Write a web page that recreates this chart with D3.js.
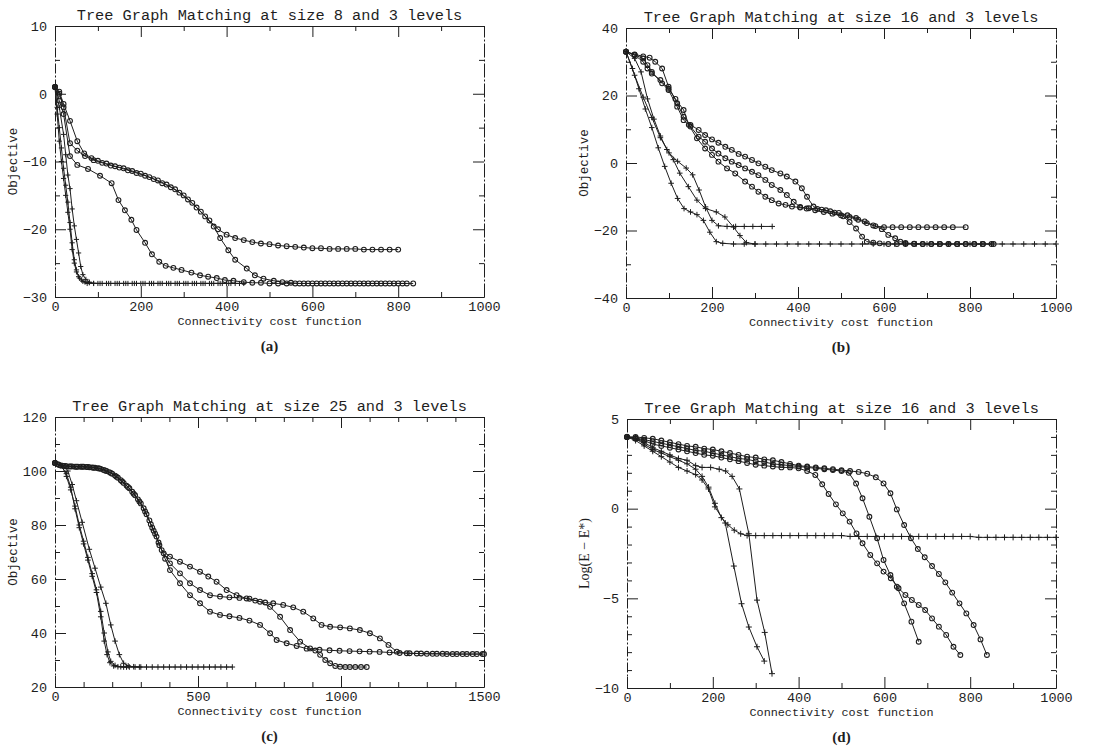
<!DOCTYPE html>
<html>
<head>
<meta charset="utf-8">
<script src="https://cdn.jsdelivr.net/npm/d3@7/dist/d3.min.js"></script>
<style>
  body { margin: 0; background: #fff; }
</style>
</head>
<body>
<div id="fig"></div>
<script>
// ---- panel (a) : size 8 ----
var aTitle = "Tree Graph Matching at size 8 and 3 levels";
var aXTicks = [0, 200, 400, 600, 800, 1000];
var aXMinor = [100, 300, 500, 700, 900];
var aYTicks = [-30, -20, -10, 0, 10];
var aYMinor = [-25, -15, -5, 5];
var aCirc1 = [[0,1],[10,0.3],[20,-1.5],[35,-4],[52,-7],[68,-8.8],[85,-9.5],[100,-9.9],[120,-10.3],[140,-10.7],[160,-11],[180,-11.4],[200,-11.8],[220,-12.3],[240,-12.8],[260,-13.4],[280,-14.1],[300,-15],[320,-16.1],[340,-17.4],[360,-18.7],[380,-20],[400,-20.8],[420,-21.3],[440,-21.6],[460,-21.9],[480,-22.1],[500,-22.2],[520,-22.4],[540,-22.5],[560,-22.6],[580,-22.7],[600,-22.8],[620,-22.8],[640,-22.9],[660,-22.9],[680,-22.9],[700,-22.9],[720,-23],[740,-23],[760,-23],[780,-23],[800,-23]];
var aCirc2 = [[0,1],[10,0],[20,-2],[35,-7.3],[52,-8.4],[70,-9.2],[90,-9.8],[110,-10.2],[130,-10.6],[150,-10.9],[170,-11.3],[190,-11.7],[210,-12.1],[230,-12.6],[250,-13.2],[270,-13.8],[290,-14.6],[310,-15.6],[330,-16.8],[350,-18.1],[370,-19.6],[385,-21.3],[404,-23.1],[420,-24.5],[447,-25.8],[466,-26.8],[486,-27.3],[510,-27.6],[530,-27.8],[550,-27.9],[570,-28],[590,-28],[610,-28],[630,-28],[650,-28],[670,-28],[690,-28],[710,-28],[730,-28],[750,-28],[770,-28],[790,-28],[810,-28],[835,-28]];
var aCirc3 = [[0,1],[10,-1],[20,-3],[35,-9.2],[52,-10.5],[77,-11.1],[105,-12.1],[132,-13.2],[148,-15.7],[163,-17.2],[178,-18.6],[190,-20.1],[210,-22],[226,-23.7],[243,-24.8],[258,-25.4],[276,-25.7],[295,-26],[318,-26.4],[338,-26.8],[357,-27],[377,-27.2],[396,-27.5],[416,-27.6],[440,-27.8],[460,-27.9],[480,-27.9],[500,-28],[520,-28],[540,-28],[560,-28],[580,-28],[600,-28],[620,-28],[640,-28],[660,-28],[680,-28],[700,-28],[720,-28],[740,-28],[760,-28],[780,-28],[800,-28],[820,-28]];
var aPlus1 = [[0,1],[5,-2],[10,-5],[15,-8],[20,-11],[25,-13.5],[30,-16],[35,-19],[40,-22],[45,-24.5],[50,-26],[55,-27],[62,-27.5],[70,-27.8],[80,-27.9],[100,-28],[120,-28],[140,-28],[160,-28],[180,-28],[200,-28],[220,-28],[240,-28],[260,-28],[280,-28],[300,-28],[320,-28],[340,-28],[360,-28],[380,-28],[400,-28],[420,-28],[440,-28]];
var aPlus2 = [[0,1],[5,-3],[10,-7],[15,-10],[20,-12.5],[25,-15],[30,-17.5],[35,-20],[40,-23],[45,-25],[50,-26.3],[57,-27.2],[65,-27.7],[75,-28],[90,-28],[105,-28],[125,-28],[145,-28],[165,-28],[185,-28],[205,-28],[225,-28],[245,-28],[265,-28],[285,-28],[305,-28],[325,-28],[345,-28],[365,-28],[385,-28],[405,-28]];
var aPlus3 = [[0,1],[10,-2],[20,-6],[25,-9],[30,-12],[35,-14],[40,-17],[45,-19.5],[50,-21.5],[55,-23.5],[60,-25.5],[65,-26.7],[72,-27.4],[80,-27.8],[90,-28],[110,-28],[130,-28],[150,-28],[170,-28],[190,-28],[210,-28],[230,-28],[250,-28],[270,-28],[290,-28],[310,-28],[330,-28],[350,-28],[370,-28],[390,-28],[410,-28],[430,-28]];

// ---- panel (b) : size 16 ----
var bTitle = "Tree Graph Matching at size 16 and 3 levels";
var bXTicks = [0, 200, 400, 600, 800, 1000];
var bXMinor = [100, 300, 500, 700, 900];
var bYTicks = [-40, -20, 0, 20, 40];
var bYMinor = [-30, -10, 10, 30];
var bCirc1 = [[0,33],[20,32.2],[40,31.6],[55,31.2],[68,30],[84,28],[99,22.6],[119,17.7],[134,13.7],[150,11.3],[169,9.8],[184,8.3],[200,7],[215,6],[231,4.8],[246,3.9],[262,2.7],[277,1.9],[293,0.9],[308,-0.1],[324,-1.1],[339,-2.1],[359,-3.1],[374,-4],[394,-5.5],[409,-7.5],[421,-10],[436,-12.9],[455,-13.8],[475,-14.3],[495,-14.8],[515,-15.5],[535,-16.3],[555,-17.3],[575,-18.5],[595,-19.6],[610,-21.3],[626,-22.3],[638,-23.3],[650,-23.7],[670,-23.9],[690,-24],[710,-24],[730,-24],[750,-24],[770,-24],[790,-24],[810,-24],[830,-24],[850,-24]];
var bCirc2 = [[0,33],[20,32],[40,31],[50,29],[60,27],[84,23.6],[99,21.6],[119,16.7],[134,12.7],[150,10.8],[169,7.8],[184,6.3],[200,4.3],[215,2.8],[231,1.4],[246,0.4],[262,-0.6],[277,-1.6],[293,-2.6],[308,-3.6],[324,-5],[339,-6.5],[359,-8],[374,-9.5],[390,-11.5],[405,-13],[420,-13.5],[440,-14],[460,-14.5],[480,-15],[500,-15.5],[520,-16],[540,-16.8],[560,-17.8],[580,-18.7],[600,-19],[620,-19],[640,-19],[660,-19],[680,-19],[700,-19],[720,-19],[740,-19],[760,-19],[790,-19]];
var bCirc3 = [[0,33],[20,32],[40,30],[50,28],[60,26.5],[80,24.6],[99,22],[115,19],[134,15.7],[146,11.3],[165,7.3],[184,4.3],[200,2.4],[215,0.4],[235,-1.6],[254,-3.1],[277,-5.5],[293,-7],[308,-8.5],[324,-10],[339,-11],[355,-12],[371,-12.4],[386,-12.9],[405,-13.2],[425,-13.4],[445,-13.6],[465,-14],[485,-14.7],[505,-15.8],[520,-17.5],[535,-19.4],[549,-21.8],[560,-23.3],[575,-23.6],[590,-23.8],[610,-24],[630,-24],[650,-24],[670,-24],[690,-24],[710,-24],[730,-24],[750,-24],[770,-24],[790,-24],[810,-24],[830,-24],[855,-24]];
var bPlus1 = [[0,33],[15,28],[30,22],[45,16],[60,10.5],[75,4.5],[90,-1],[105,-6],[120,-10.5],[135,-13.5],[150,-14.5],[165,-15.3],[180,-17],[195,-20.5],[210,-23.3],[225,-23.8],[250,-24],[275,-24],[300,-24],[325,-24],[350,-24],[375,-24],[400,-24],[425,-24],[450,-24],[475,-24],[500,-24],[525,-24],[550,-24],[575,-24],[600,-24],[625,-24],[650,-24],[675,-24],[700,-24],[725,-24],[750,-24],[775,-24],[800,-24],[825,-24],[850,-24],[875,-24],[900,-24],[925,-24],[950,-24],[975,-24],[1000,-24]];
var bPlus2 = [[0,33],[20,26],[40,19.5],[60,13.5],[80,7.5],[100,3],[120,0.5],[140,-1.5],[155,-3.5],[170,-8],[185,-13],[200,-17],[215,-18.6],[235,-18.8],[255,-18.8],[275,-18.8],[295,-18.8],[315,-18.8],[340,-18.8]];
var bPlus3 = [[0,33],[20,31],[35,27],[50,19],[65,13],[80,8],[95,4],[110,1],[125,-3],[145,-7],[165,-11],[185,-13.5],[210,-14.5],[230,-16],[250,-19],[265,-21.5],[280,-23.6],[300,-24]];

// ---- panel (c) : size 25 ----
var cTitle = "Tree Graph Matching at size 25 and 3 levels";
var cXTicks = [0, 500, 1000, 1500];
var cXMinor = [100, 200, 300, 400, 600, 700, 800, 900, 1100, 1200, 1300, 1400];
var cYTicks = [20, 40, 60, 80, 100, 120];
var cYMinor = [30, 50, 70, 90, 110];
var cCirc1 = [[0,103],[20,102],[40,101.8],[60,101.7],[80,101.6],[100,101.6],[120,101.4],[140,101.2],[160,100.8],[180,100],[200,99],[220,97.5],[240,95.6],[260,93.6],[280,91],[300,88],[320,84],[340,79],[355,75.7],[373,70.7],[402,68.3],[437,66.4],[472,64.6],[507,62.7],[536,60.9],[565,59],[600,55.9],[635,54],[670,52.8],[700,52],[735,51.3],[763,51],[798,50.4],[833,49.5],[868,47.9],[903,45.4],[932,43],[962,42.3],[997,42.1],[1031,41.7],[1066,41.1],[1101,39.9],[1136,38],[1166,35.6],[1195,33.1],[1230,32.5],[1265,32.4],[1300,32.3],[1335,32.3],[1370,32.2],[1405,32.2],[1440,32.2],[1475,32.2],[1500,32.2]];
var cCirc2 = [[0,103],[15,102.2],[35,101.9],[55,101.7],[75,101.6],[95,101.6],[115,101.5],[135,101.2],[155,100.9],[175,100.2],[195,99.3],[215,97.9],[235,96.1],[255,94.1],[275,91.6],[295,88.7],[315,85],[335,80.3],[350,76.8],[365,72.5],[380,69.5],[402,65.8],[437,62.1],[472,58.4],[507,55.9],[542,54],[577,53.5],[610,53.2],[645,53],[680,52.7],[717,51.6],[752,49.7],[787,46],[822,41.1],[857,36.8],[892,34.3],[925,33.8],[960,33.6],[995,33.4],[1030,33.3],[1065,33.2],[1100,33.1],[1135,33],[1170,32.8],[1205,32.6],[1240,32.5],[1280,32.4],[1320,32.3],[1355,32.3],[1390,32.2],[1425,32.2],[1460,32.2],[1495,32.2]];
var cCirc3 = [[0,103],[10,102.5],[30,101.9],[50,101.7],[70,101.6],[90,101.6],[110,101.5],[130,101.3],[150,101],[170,100.4],[190,99.6],[210,98.3],[230,96.6],[250,94.6],[270,92.3],[290,89.5],[310,86.2],[330,81.7],[345,77.9],[362,73.5],[385,67.5],[402,63.3],[437,58.4],[472,54],[507,51],[542,47.9],[577,46.7],[610,46.2],[645,45.6],[680,44.6],[717,43],[752,39.9],[775,37.4],[810,36.2],[845,35.2],[880,34.2],[910,33.5],[927,31.9],[945,30],[962,28.8],[980,27.8],[997,27.5],[1015,27.4],[1031,27.4],[1050,27.4],[1070,27.4],[1090,27.4]];
var cPlus1 = [[0,103],[20,102],[40,99],[55,94],[70,86],[85,79],[100,73],[115,67],[130,61],[145,55],[160,46],[172,37],[182,32],[192,29],[205,27.8],[220,27.5],[240,27.4],[260,27.4],[280,27.4],[300,27.4],[320,27.4],[340,27.4],[360,27.4],[380,27.4],[400,27.4],[420,27.4],[440,27.4],[460,27.4],[480,27.4],[500,27.4],[520,27.4],[540,27.4],[560,27.4],[580,27.4],[600,27.4],[620,27.4]];
var cPlus2 = [[0,103],[25,102],[40,98],[55,93],[70,87],[85,80],[100,74],[115,68],[130,62],[145,56],[160,48],[172,40],[185,33],[195,29.5],[210,28],[230,27.5],[250,27.4]];
var cPlus3 = [[0,103],[25,102],[45,100],[60,95],[75,89],[95,81],[120,71],[140,64],[160,57],[178,51],[195,43],[210,37],[225,32],[240,28.8],[256,27.8],[275,27.5],[295,27.4]];

// ---- panel (d) : size 16, log error ----
var dTitle = "Tree Graph Matching at size 16 and 3 levels";
var dXTicks = [0, 200, 400, 600, 800, 1000];
var dXMinor = [100, 300, 500, 700, 900];
var dYTicks = [-10, -5, 0, 5];
var dYMinor = [-9, -8, -7, -6, -4, -3, -2, -1, 1, 2, 3, 4];
var dCirc1 = [[0,4],[20,3.95],[40,3.85],[60,3.75],[80,3.65],[100,3.55],[120,3.45],[140,3.35],[160,3.25],[180,3.2],[200,3.1],[220,3],[240,2.9],[260,2.8],[280,2.75],[300,2.65],[320,2.6],[340,2.5],[360,2.45],[380,2.4],[400,2.35],[420,2.3],[440,2.25],[460,2.2],[480,2.15],[500,2.1],[517,2],[534,1.4],[549,0.58],[565,-0.45],[583,-1.65],[598,-2.86],[614,-3.7],[629,-4.35],[646,-5.28],[663,-6.3],[680,-7.42]];
var dCirc2 = [[0,4],[20,3.9],[40,3.8],[60,3.6],[80,3.5],[100,3.4],[120,3.3],[140,3.2],[160,3.1],[180,3],[200,2.95],[220,2.85],[240,2.75],[260,2.65],[280,2.55],[300,2.45],[320,2.4],[340,2.35],[360,2.3],[380,2.3],[400,2.25],[420,2.1],[439,1.88],[455,1.36],[470,0.82],[487,0.24],[503,-0.26],[519,-0.72],[535,-1.38],[549,-1.93],[567,-2.58],[583,-3.05],[598,-3.51],[615,-3.88],[633,-4.44],[649,-4.81],[664,-5.09],[680,-5.37],[695,-5.65],[711,-6.12],[727,-6.58],[744,-7.04],[761,-7.7],[777,-8.16]];
var dCirc3 = [[0,4],[20,4],[40,3.95],[60,3.9],[80,3.8],[100,3.7],[120,3.6],[140,3.5],[160,3.45],[180,3.35],[200,3.3],[220,3.2],[240,3.1],[260,3],[280,2.9],[300,2.85],[320,2.75],[340,2.7],[360,2.6],[380,2.5],[400,2.4],[420,2.35],[440,2.3],[460,2.25],[480,2.2],[500,2.15],[520,2.1],[540,2.05],[560,1.95],[580,1.75],[598,1.41],[614,0.86],[629,-0.04],[646,-0.91],[662,-1.65],[678,-2.25],[694,-2.71],[711,-3.2],[727,-3.64],[742,-4.11],[758,-4.68],[775,-5.28],[791,-5.84],[808,-6.49],[824,-7.29],[839,-8.16]];
var dPlus1 = [[0,4],[20,3.9],[40,3.6],[60,3.3],[80,3.1],[100,2.9],[120,2.7],[140,2.5],[160,2.2],[175,1.8],[190,1.2],[205,0.3],[220,-0.5],[235,-0.9],[250,-1.2],[265,-1.4],[280,-1.5],[300,-1.5],[320,-1.5],[340,-1.5],[360,-1.5],[380,-1.5],[400,-1.5],[420,-1.5],[440,-1.5],[460,-1.5],[480,-1.5],[500,-1.5],[520,-1.55],[540,-1.55],[560,-1.55],[580,-1.55],[600,-1.55],[620,-1.55],[640,-1.55],[660,-1.55],[680,-1.55],[700,-1.55],[720,-1.55],[740,-1.55],[760,-1.55],[780,-1.55],[800,-1.55],[820,-1.6],[840,-1.6],[860,-1.6],[880,-1.6],[900,-1.6],[920,-1.6],[940,-1.6],[960,-1.6],[980,-1.6],[1000,-1.6]];
var dPlus2 = [[0,4],[20,3.9],[40,3.7],[60,3.4],[80,3.2],[100,3],[120,2.8],[140,2.7],[160,2.4],[175,2.3],[195,2.3],[215,2.2],[230,2.1],[245,1.8],[262,1.1],[284,-1.4],[303,-5.1],[321,-6.9],[338,-9.2]];
var dPlus3 = [[0,4],[20,3.8],[40,3.5],[60,3.2],[80,2.9],[100,2.6],[120,2.3],[140,2.1],[160,1.9],[175,1.6],[190,1.1],[205,0.1],[229,-0.8],[249,-3.2],[267,-5.3],[284,-6.6],[303,-7.7],[320,-8.5]];

var xLabel = "Connectivity cost function";

var panels = [
  {left: 55, top: 26, w: 429, h: 271, xDom: [0, 1000], yDom: [-30, 10], xTicks: aXTicks, xMinor: aXMinor, yTicks: aYTicks, yMinor: aYMinor,
   title: aTitle, yLabel: "Objective", tag: "(a)", plusSize: 2.6,
   series: [{pts: aCirc1, mark: "o"}, {pts: aCirc2, mark: "o"}, {pts: aCirc3, mark: "o"}, {pts: aPlus1, mark: "+"}, {pts: aPlus2, mark: "+"}, {pts: aPlus3, mark: "+"}]},
  {left: 626, top: 28, w: 430, h: 270, xDom: [0, 1000], yDom: [-40, 40], xTicks: bXTicks, xMinor: bXMinor, yTicks: bYTicks, yMinor: bYMinor,
   title: bTitle, yLabel: "Objective", tag: "(b)", plusSize: 2.8,
   series: [{pts: bCirc1, mark: "o"}, {pts: bCirc2, mark: "o"}, {pts: bCirc3, mark: "o"}, {pts: bPlus1, mark: "+"}, {pts: bPlus2, mark: "+"}, {pts: bPlus3, mark: "+"}]},
  {left: 55, top: 417, w: 429, h: 270, xDom: [0, 1500], yDom: [20, 120], xTicks: cXTicks, xMinor: cXMinor, yTicks: cYTicks, yMinor: cYMinor,
   title: cTitle, yLabel: "Objective", tag: "(c)", plusSize: 2.8,
   series: [{pts: cCirc1, mark: "o"}, {pts: cCirc2, mark: "o"}, {pts: cCirc3, mark: "o"}, {pts: cPlus1, mark: "+"}, {pts: cPlus2, mark: "+"}, {pts: cPlus3, mark: "+"}]},
  {left: 627, top: 419, w: 429, h: 269, xDom: [0, 1000], yDom: [-10, 5], xTicks: dXTicks, xMinor: dXMinor, yTicks: dYTicks, yMinor: dYMinor,
   title: dTitle, yLabel: "Log(E \u2212 E*)", tag: "(d)", plusSize: 3,
   series: [{pts: dCirc1, mark: "o"}, {pts: dCirc2, mark: "o"}, {pts: dCirc3, mark: "o"}, {pts: dPlus1, mark: "+"}, {pts: dPlus2, mark: "+"}, {pts: dPlus3, mark: "+"}]}
];

var mono = "'Liberation Mono', 'DejaVu Sans Mono', monospace";
var ink = "#1e1e1e";

var svg = d3.select("#fig").append("svg")
  .attr("width", 1104)
  .attr("height", 749);

svg.append("rect").attr("width", 1104).attr("height", 749).attr("fill", "#fff");

function styleAxis(sel) {
  sel.selectAll("line").attr("stroke", ink).attr("stroke-width", 1);
  sel.select(".domain").attr("stroke", ink).attr("stroke-width", 1.2);
  sel.selectAll("text").attr("font-family", mono).attr("font-size", 13.5).attr("fill", ink);
}

function drawPanel(p) {
  var g = svg.append("g").attr("transform", "translate(" + p.left + "," + p.top + ")");

  var x = d3.scaleLinear().domain(p.xDom).range([0, p.w]);
  var y = d3.scaleLinear().domain(p.yDom).range([p.h, 0]);

  // major ticks, all pointing inward
  g.append("g").attr("transform", "translate(0," + p.h + ")")
    .call(d3.axisBottom(x).tickValues(p.xTicks).tickSize(-11).tickSizeOuter(0).tickPadding(4).tickFormat(d3.format("d")))
    .call(styleAxis);
  g.append("g")
    .call(d3.axisTop(x).tickValues(p.xTicks).tickSize(-11).tickSizeOuter(0).tickFormat(""))
    .call(styleAxis);
  // side edges look dash-dotted in the scan
  g.append("g")
    .call(d3.axisLeft(y).tickValues(p.yTicks).tickSize(-11).tickSizeOuter(0).tickPadding(8))
    .call(styleAxis)
    .select(".domain").attr("stroke-dasharray", "10,2,2,2").attr("stroke-width", 1);
  g.append("g").attr("transform", "translate(" + p.w + ",0)")
    .call(d3.axisRight(y).tickValues(p.yTicks).tickSize(-11).tickSizeOuter(0).tickFormat(""))
    .call(styleAxis)
    .select(".domain").attr("stroke-dasharray", "14,2,2,2").attr("stroke-width", 1);

  // minor ticks
  g.append("g").attr("transform", "translate(0," + p.h + ")")
    .call(d3.axisBottom(x).tickValues(p.xMinor).tickSize(-5).tickFormat(""))
    .call(styleAxis).select(".domain").remove();
  g.append("g")
    .call(d3.axisTop(x).tickValues(p.xMinor).tickSize(-5).tickFormat(""))
    .call(styleAxis).select(".domain").remove();
  g.append("g")
    .call(d3.axisLeft(y).tickValues(p.yMinor).tickSize(-5).tickFormat(""))
    .call(styleAxis).select(".domain").remove();
  g.append("g").attr("transform", "translate(" + p.w + ",0)")
    .call(d3.axisRight(y).tickValues(p.yMinor).tickSize(-5).tickFormat(""))
    .call(styleAxis).select(".domain").remove();

  var line = d3.line()
    .x(function(d) { return x(d[0]); })
    .y(function(d) { return y(d[1]); });

  p.series.forEach(function(s) {
    g.append("path")
      .datum(s.pts)
      .attr("d", line)
      .attr("fill", "none")
      .attr("stroke", ink)
      .attr("stroke-width", 1);

    if (s.mark == "o") {
      g.selectAll(null)
        .data(s.pts)
        .enter()
        .append("circle")
        .attr("cx", function(d) { return x(d[0]); })
        .attr("cy", function(d) { return y(d[1]); })
        .attr("r", 2.4)
        .attr("fill", "none")
        .attr("stroke", ink)
        .attr("stroke-width", 1.1);
    } else {
      var k = p.plusSize;
      g.selectAll(null)
        .data(s.pts)
        .enter()
        .append("path")
        .attr("transform", function(d) { return "translate(" + x(d[0]) + "," + y(d[1]) + ")"; })
        .attr("d", "M" + (-k) + ",0H" + k + "M0," + (-k) + "V" + k)
        .attr("stroke", ink)
        .attr("stroke-width", 1);
    }
  });

  g.append("text")
    .attr("x", p.w / 2)
    .attr("y", -6)
    .attr("text-anchor", "middle")
    .attr("font-family", mono)
    .attr("font-size", 15.3)
    .attr("fill", ink)
    .text(p.title);

  g.append("text")
    .attr("x", p.w / 2)
    .attr("y", p.h + 28)
    .attr("text-anchor", "middle")
    .attr("font-family", mono)
    .attr("font-size", 11.8)
    .attr("fill", ink)
    .text(xLabel);

  g.append("text")
    .attr("transform", "translate(-38," + (p.h / 2) + ") rotate(-90)")
    .attr("text-anchor", "middle")
    .attr("font-family", p.tag == "(d)" ? "'Liberation Serif', serif" : mono)
    .attr("font-size", p.tag == "(d)" ? 14 : 12.5)
    .attr("fill", ink)
    .text(p.yLabel);

  g.append("text")
    .attr("x", p.w / 2)
    .attr("y", p.h + 54)
    .attr("text-anchor", "middle")
    .attr("font-family", "'Liberation Serif', serif")
    .attr("font-weight", "bold")
    .attr("font-size", 15)
    .attr("fill", ink)
    .text(p.tag);
}

panels.forEach(drawPanel);
</script>
</body>
</html>
